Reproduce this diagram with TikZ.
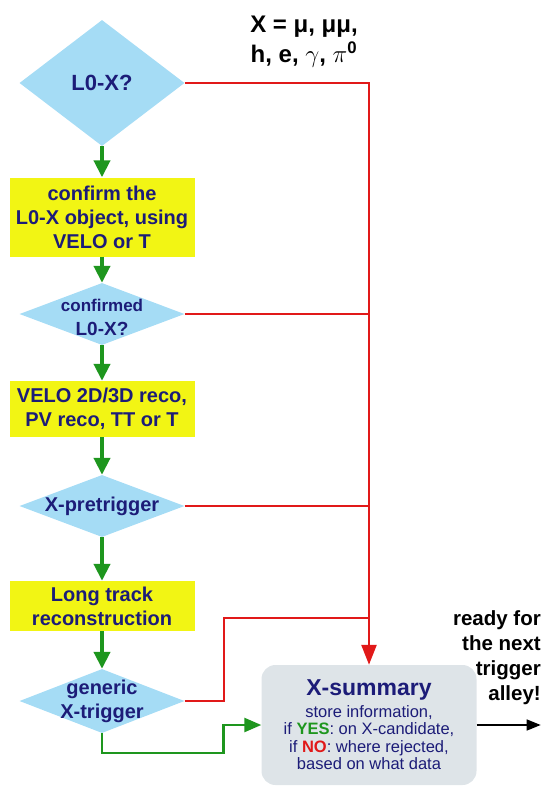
\documentclass[tikz,border=0pt]{standalone}
\usepackage{fontspec}
\setmainfont{Liberation Sans}
\usetikzlibrary{shapes.geometric, arrows.meta, calc}
\definecolor{qnavy}{RGB}{28,28,120}
\definecolor{qblue}{RGB}{165,220,245}
\definecolor{qyellow}{RGB}{242,245,20}
\definecolor{qgreen}{RGB}{30,150,30}
\definecolor{qred}{RGB}{225,25,25}
\definecolor{qgrey}{RGB}{222,228,232}

\begin{document}
\begin{tikzpicture}[node distance=97pt,
  decide/.style={diamond, fill=qblue, inner sep=0pt, minimum width=165pt, minimum height=62pt},
  qtext/.style={inner sep=0pt, text=qnavy, font=\fontsize{20}{24}\selectfont\bfseries, align=center},
  work/.style={rectangle, fill=qyellow, minimum width=185pt, inner sep=0pt, text=qnavy, font=\fontsize{20}{24}\selectfont\bfseries, align=center},
  go/.style={draw=qgreen, line width=4pt, -{Triangle[length=17pt, width=16pt]}},
  reject/.style={draw=qred, line width=2pt}]
\useasboundingbox (0,0) rectangle (544pt,-787pt);

\node  (q1)[decide, minimum height=126pt] at (102pt,-83pt) {};
\node  (q1t)[qtext, font=\fontsize{22}{26}\selectfont\bfseries] at (q1) {L0-X?};
\node  (b1)[work, minimum height=79pt] [below of = q1, node distance=134pt] {confirm the\\L0-X object, using\\VELO or T};
\node  (q2)[decide] [below of = b1] {};
\node  (q2t)[qtext, font=\fontsize{19}{24}\selectfont\bfseries, yshift=-3pt] at (q2) {{\fontsize{17}{20}\selectfont confirmed}\\L0-X?};
\node  (b2)[work, minimum height=56pt] [below of = q2, node distance=95pt] {VELO 2D/3D reco,\\PV reco, TT or T};
\node  (q3)[decide] [below of = b2] {};
\node  (q3t)[qtext] at (q3) {X-pretrigger};
\node  (b3)[work, minimum height=50pt] [below of = q3, node distance=100pt] {Long track\\reconstruction};
\node  (q4)[decide, minimum height=64pt] [below of = b3, node distance=95pt] {};
\node  (q4t)[qtext] at (q4) {generic\\X-trigger};

\node  (sum)[rectangle, rounded corners=14pt, fill=qgrey, minimum width=215pt, minimum height=120pt, text=qnavy, align=center, font=\fontsize{16.5}{17.5}\selectfont] at (369pt,-725pt) {{\fontsize{23}{26}\selectfont\bfseries X-summary}\\[4pt]store information,\\if {\bfseries\color{qgreen}YES}: on X-candidate,\\if {\bfseries\color{qred}NO}: where rejected,\\based on what data};

\node  (xlist)[align=center, font=\fontsize{24}{30}\selectfont\bfseries] at (304pt,-42pt) {X = μ, μμ,\\h, e, $\gamma$, $\pi^{\mathbf{0}}$};
\node  (ready)[anchor=north east, inner sep=0pt, align=right, font=\fontsize{20.5}{25}\selectfont\bfseries] at (541pt,-610pt) {ready for\\the next\\trigger\\alley!};

\coordinate (jn) at ($(sum.north)+(0,47pt)$);
\coordinate (nxt) at ($(sum.east)+(64pt,0)$);

\draw[go] (q1) -- (b1);
\draw[go] (b1) -- (q2);
\draw[go] (q2) -- (b2);
\draw[go] (b2) -- (q3);
\draw[go] (q3) -- (b3);
\draw[go] (b3) -- (q4);
\draw[reject, line width=2.5pt, -{Triangle[length=20pt, width=15pt]}] (q1.east) -| (sum.north);
\draw[reject] (q2.east) -- (q2.east -| sum.north);
\draw[reject] (q3.east) -- (q3.east -| sum.north);
\draw[reject] (q4.east) -- ++(39pt,0) |- (jn);
\draw[draw=qgreen, line width=2.5pt, -{Triangle[length=17pt, width=14pt]}] (q4.south) -- ++(0,-20pt) -| ($(sum.west)+(-38pt,0)$) -- (sum.west);
\draw[line width=1.5pt, -{Triangle[length=14pt, width=11pt]}] (sum.east) -- (nxt);
\end{tikzpicture}
\end{document}
